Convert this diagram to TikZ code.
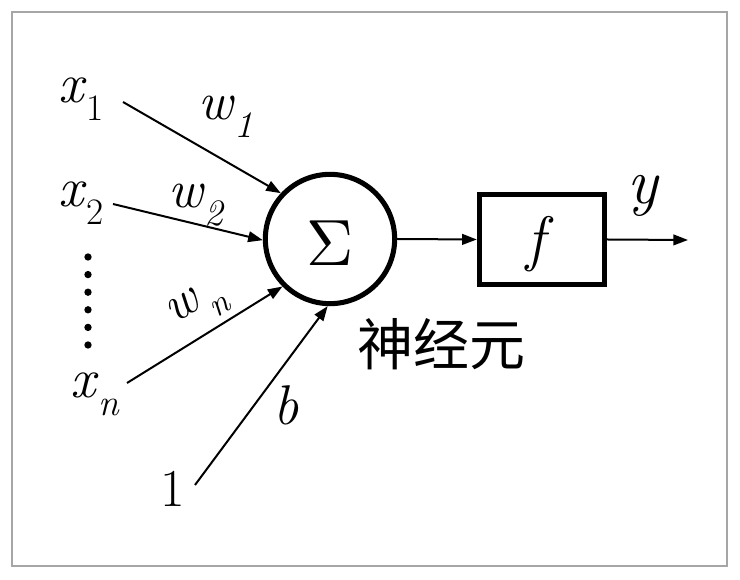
\documentclass[tikz,border=0pt]{standalone}
\usepackage{fontspec}
\usepackage{graphicx}
\newfontfamily\cjk{Noto Sans CJK SC}
\usetikzlibrary{arrows.meta}
\newcommand{\fs}[1]{\fontsize{#1}{#1}\selectfont}
\newcommand{\lowsub}[2]{\raisebox{-0.32em}{\fs{#1}#2}}
\begin{document}
\begin{tikzpicture}[x=0.75pt,y=-0.75pt,
  conn/.style={line width=1.5pt,-{Triangle[length=11pt,width=8pt]}},
  lbl/.style={inner sep=0pt,anchor=base west},
  dotc/.style={fill=black,circle,inner sep=0pt,minimum size=5.5pt}]
\useasboundingbox (0,0) rectangle (740,580);
\draw[line width=1.5pt,gray!70] (12,12) rectangle (727,566);
% neuron
\node[circle,draw,line width=3.8pt,minimum size=97pt,inner sep=0pt] (sum) at (330,239) {};
\node (sigma) at (330,243) {\scalebox{4.9}{$\Sigma$}};
\node[draw,line width=3.8pt,minimum width=94pt,minimum height=68pt,inner sep=0pt] (f) at (542,239.5) {};
\node (ftext) at (540,244) {\fs{46}\textit{f}};
\node (cn) at (441,344) {\cjk\fs{42}神经元};
% inputs
\node[lbl] (x1) at (58,103) {\fs{42}\textit{x}\lowsub{28}{1}};
\node[lbl] (x2) at (58,207) {\fs{42}\textit{x}\lowsub{28}{2}};
\node[lbl] (xn) at (70,398) {\fs{42}\textit{x}\lowsub{28}{\textit{n}}};
\node[lbl] (one) at (160,507) {\fs{40}1};
\coordinate (s1) at (123,102);
\coordinate (s2) at (113,204);
\coordinate (sn) at (127,383);
\coordinate (sb) at (195,485);
\coordinate (out) at (688,240);
\foreach \i in {0,...,5} {\node[dotc] (d\i) at (88,257+17.6*\i) {};}
% weights
\node[lbl] (w1) at (198,120) {\fs{40}\textit{w}\lowsub{28}{\textit{1}}};
\node[lbl] (w2) at (168,208) {\fs{40}\textit{w}\lowsub{28}{\textit{2}}};
\node[inner sep=0pt,rotate=32] (wn) at (198,307) {\fs{38}\textit{w}\hspace{3pt}\lowsub{26}{\textit{n}}};
\node[lbl] (b) at (273,425) {\fs{42}\textit{b}};
\node[lbl] (y) at (627,204) {\fs{48}\textit{y}};
% connectors
\draw[conn] (s1) -- (sum.137);
\draw[conn] (s2) -- (sum.181);
\draw[conn] (sn) -- (sum.225);
\draw[conn] (sb) -- (sum.268);
\draw[conn] (sum.east) -- (f.west);
\draw[conn] (f.east) -- (out);
\end{tikzpicture}
\end{document}
